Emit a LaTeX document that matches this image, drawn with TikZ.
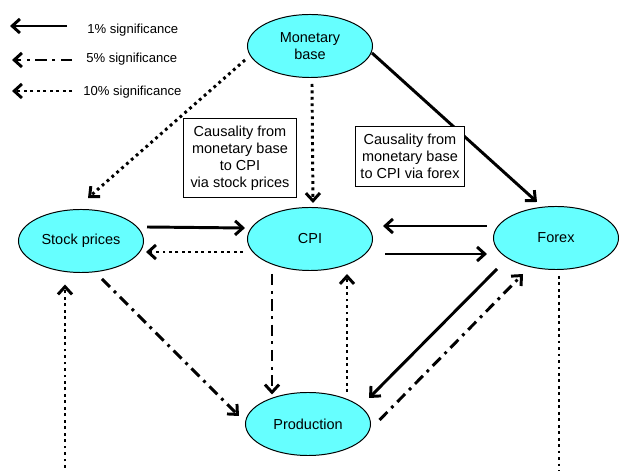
\documentclass[tikz,border=0pt]{standalone}
\usepackage{fontspec}
\setmainfont{Liberation Sans}
\usetikzlibrary{shapes.geometric, arrows.meta, calc}

\definecolor{varcyan}{RGB}{102,255,255}

\tikzset{
	varnode/.style = {ellipse, draw, line width = 0.7pt, fill = varcyan, minimum width = 3.125cm, minimum height = 1.575cm, inner sep = 0pt, align = center, font = \fontsize{10.3}{12.2}\selectfont},
	notebox/.style = {rectangle, draw, line width = 0.7pt, fill = white, align = center, inner sep = 0pt, font = \fontsize{10.3}{12.2}\selectfont},
	legtext/.style = {anchor = west, inner sep = 0pt, font = \fontsize{9.3}{11}\selectfont},
	sig1/.style = {-{Straight Barb[length = 5.5pt, width = 10pt]}, line width = 2.1pt},
	sig5/.style = {sig1, dash pattern = on 8pt off 4pt on 2pt off 4pt},
	sig10/.style = {sig1, dash pattern = on 2pt off 2.6pt}
}

\begin{document}
\begin{tikzpicture}[x = 0.025cm, y = -0.025cm]

	\useasboundingbox (0, 0) rectangle (619, 471);
	\clip (0, 0) rectangle (619, 471);

	% Legend of significance levels
	
	\node (leg1) at (87, 30) [legtext] {1\% significance};
	\node (leg2) at (86, 59) [legtext] {5\% significance};
	\node (leg3) at (83, 92) [legtext] {10\% significance};
	
	\draw [sig1] ($(leg1.west) + (-20, -4)$) -- ++(-57, 0);
	\draw [sig5] ($(leg2.west) + (-14, 1)$) -- ++(-60, 0);
	\draw [sig10] ($(leg3.west) + (-11, -1)$) -- ++(-60, 0);
	
	% Variables
	
	\node (mb) at (310, 46) [varnode] {Monetary\\base};
	\node (sp) at (81, 241) [varnode] {Stock prices};
	\node (cpi) at (310, 239) [varnode] {CPI};
	\node (fx) at (556, 238) [varnode] {Forex};
	\node (prod) at (308, 424) [varnode] {Production};
	
	% Causality links
	
	\draw [sig10] ($(mb.west) + (-2, 14)$) -- ($(sp.north) + (7, -11)$);
	\draw [sig10] ($(mb.south) + (2, 6)$) -- ($(cpi.north) + (3, -4)$);
	\draw [sig1] ($(mb.east) + (-1, 7)$) -- ($(fx.north) + (-19, -4)$);
	
	\draw [sig1] ($(sp.east) + (3, -14)$) -- ($(cpi.west) + (-2, -11)$);
	\draw [sig10] ($(cpi.west) + (-4, 13)$) -- ($(sp.east) + (2, 11)$);
	\draw [sig1] ($(fx.west) + (-6, -12)$) -- ($(cpi.east) + (10, -13)$);
	\draw [sig1] ($(cpi.east) + (12, 15)$) -- ($(fx.west) + (-6, 16)$);
	
	\draw [sig5] ($(sp.south) + (21, 6)$) -- ($(prod.west) + (-6, -8)$);
	\draw [sig5] ($(cpi.south) + (-38, 3)$) -- ($(prod.north) + (-36, 2.5)$);
	\draw [sig10] ($(prod.north) + (39, 0)$) -- ($(cpi.south) + (37, 3)$);
	\draw [sig1] ($(fx.south) + (-59, -1)$) -- ($(prod.east) + (-2, -26)$);
	\draw [sig5] ($(prod.east) + (8.5, -4)$) -- ($(fx.south) + (-33, 4)$);
	
	\draw [sig10] ($(fx.south) + (3, 6)$) -- ++(0, 250) -| ($(sp.south) + (-16, 11.5)$);
	
	% Notes on the indirect channels
	
	\node (note1) at (240, 158) [notebox, minimum width = 2.8cm, minimum height = 1.95cm] {Causality from\\monetary base\\to CPI\\ via stock prices};
	\node (note2) at (410, 156.5) [notebox, minimum width = 2.7cm, minimum height = 1.475cm] {Causality from\\monetary base\\to CPI via forex};

\end{tikzpicture}
\end{document}
